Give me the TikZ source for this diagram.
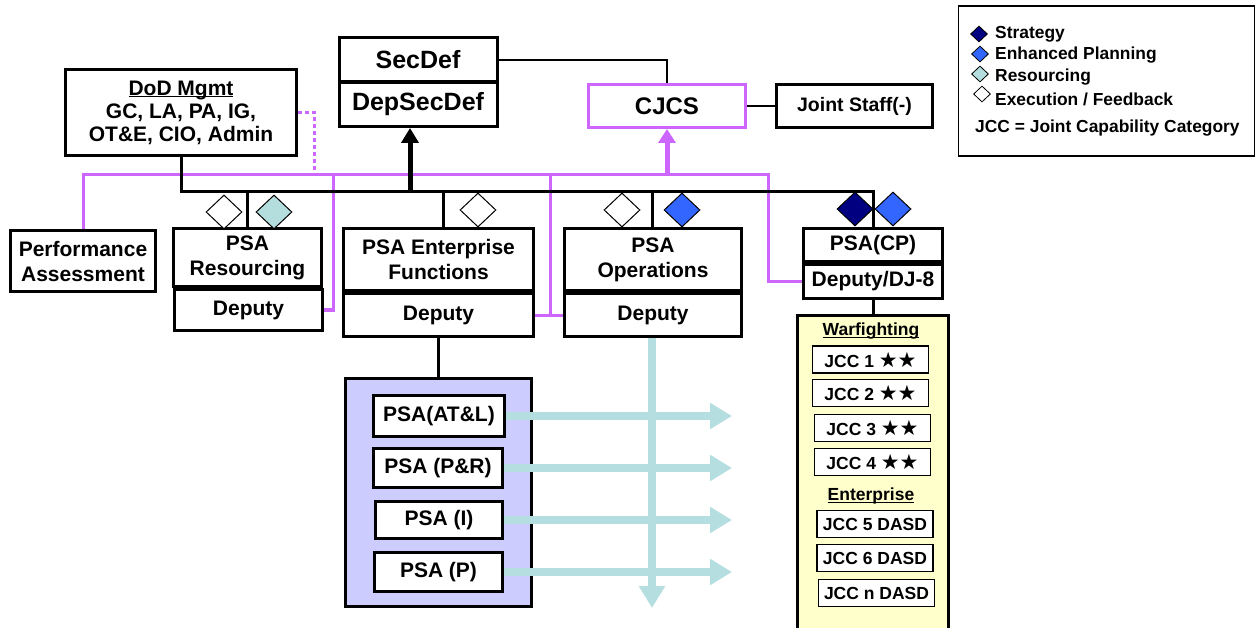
\documentclass[tikz,border=0pt]{standalone}
\usepackage{fontspec}
\setmainfont{Liberation Sans}
\newfontfamily\symfont{DejaVu Sans}
\usetikzlibrary{shapes.geometric,arrows.meta}
\definecolor{purp}{RGB}{204,102,255}
\definecolor{tealarrow}{RGB}{180,222,224}
\definecolor{diateal}{RGB}{180,222,222}
\definecolor{eblue}{RGB}{51,102,255}
\definecolor{navytwo}{RGB}{0,0,128}
\definecolor{lav}{RGB}{204,204,255}
\definecolor{ylw}{RGB}{255,255,204}
\newcommand\myul[1]{\underline{\smash{#1}}\vphantom{#1}}
\newcommand\mystars{{\symfont\fontsize{21}{20}\selectfont ★★}}
\begin{document}
\begin{tikzpicture}[x=1pt,y=-1pt,
  bx/.style={draw, line width=3pt, fill=white, inner sep=0pt, align=center, font=\bfseries\fontsize{21}{25}\selectfont},
  jcc/.style={draw, line width=1.3pt, fill=white, inner sep=0pt, minimum width=116pt, minimum height=27pt, font=\bfseries\fontsize{17.5}{20}\selectfont},
  jcchead/.style={inner sep=0pt, font=\bfseries\fontsize{17.5}{20}\selectfont},
  dia/.style={diamond, draw, line width=1pt, inner sep=0pt, minimum width=36pt, minimum height=34pt},
  ldia/.style={diamond, draw, line width=0.8pt, inner sep=0pt, minimum width=17pt, minimum height=16pt},
  legtext/.style={anchor=west, inner sep=0pt, font=\bfseries\fontsize{17.4}{20}\selectfont},
  busline/.style={line width=3pt, line join=miter},
  pline/.style={purp, line width=3pt},
  tarrow/.style={tealarrow, line width=8pt, -{Triangle[width=25pt,length=22pt]}},
  thinline/.style={line width=1.2pt},
]
\useasboundingbox (0,0) rectangle (1258,628);

% legend
\node[draw, line width=1.5pt, minimum width=296pt, minimum height=150pt, inner sep=0pt] (legend) at (1106.5,81) {};
\node[ldia, fill=navytwo] (l1) at (979,34) {};
\node[ldia, fill=eblue] (l2) at (980,54) {};
\node[ldia, fill=diateal] (l3) at (980,74) {};
\node[ldia, fill=white] (l4) at (982,94) {};
\node[legtext] (t1) at (995,34) {Strategy};
\node[legtext] (t2) at (995,55) {Enhanced Planning};
\node[legtext] (t3) at (995,77) {Resourcing};
\node[legtext] (t4) at (995,99) {Execution / Feedback};
\node[legtext] (t5) at (975,128) {JCC = Joint Capability Category};

% top boxes
\node[bx, minimum width=158pt, minimum height=44pt, font=\bfseries\fontsize{25}{28}\selectfont] (secdef) at (418,60) {SecDef};
\node[bx, minimum width=158pt, minimum height=44pt, font=\bfseries\fontsize{25}{28}\selectfont] (depsec) at (418,104.5) {DepSecDef};
\node[bx, draw=purp, minimum width=157pt, minimum height=43pt, font=\bfseries\fontsize{24}{28}\selectfont] (cjcs) at (667,106) {CJCS};
\node[bx, minimum width=156pt, minimum height=43pt, font=\bfseries\fontsize{19.5}{23}\selectfont] (jstaff) at (854.5,106) {Joint Staff(-)};
\node[bx, minimum width=231pt, minimum height=86pt, font=\bfseries\fontsize{21}{23}\selectfont] (dod) at (181,112.5) {\myul{DoD Mgmt}\\GC, LA, PA, IG,\\OT\&E, CIO, Admin};

% middle row
\node[bx, minimum width=145pt, minimum height=61pt] (perf) at (83,261) {Performance\\Assessment};
\node[bx, minimum width=148pt, minimum height=58pt] (res) at (247.5,257.5) {PSA\\Resourcing};
\node[bx, minimum width=148pt, minimum height=41pt] (resdep) at (248.5,310) {Deputy};
\node[bx, minimum width=190pt, minimum height=62pt] (ent) at (438.5,259.5) {PSA Enterprise\\Functions};
\node[bx, minimum width=190pt, minimum height=42pt] (entdep) at (438.5,315) {Deputy};
\node[bx, minimum width=177pt, minimum height=62pt] (ops) at (653,259.5) {PSA\\Operations};
\node[bx, minimum width=177pt, minimum height=42pt] (opsdep) at (653,315) {Deputy};
\node[bx, minimum width=139pt, minimum height=33pt] (cp) at (873,245) {PSA(CP)};
\node[bx, minimum width=139pt, minimum height=34pt] (cpdep) at (873,281.5) {Deputy/DJ-8};

% JCC box
\node[draw, line width=3pt, fill=ylw, minimum width=151pt, minimum height=340pt, inner sep=0pt, anchor=north] (jccbox) at (873,313.5) {};
\node[jcchead] (wf) at (871,331) {\myul{Warfighting}};
\node[jcc] (j1) at (870.5,359.5) {JCC 1 \mystars};
\node[jcc] (j2) at (870.5,393) {JCC 2 \mystars};
\node[jcc] (j3) at (872.5,428) {JCC 3 \mystars};
\node[jcc] (j4) at (872.5,462) {JCC 4 \mystars};
\node[jcchead] (entp) at (871,496) {\myul{Enterprise}};
\node[jcc] (j5) at (875,524) {JCC 5 DASD};
\node[jcc] (j6) at (875,558) {JCC 6 DASD};
\node[jcc] (jn) at (876.5,593) {JCC n DASD};

% lavender box
\node[draw, line width=3pt, fill=lav, minimum width=186pt, minimum height=228pt, inner sep=0pt] (lavbox) at (438.5,492.5) {};
\node[bx, minimum width=131pt, minimum height=41pt] (atl) at (439,416) {PSA(AT\&L)};
\node[bx, minimum width=129pt, minimum height=39pt] (pr) at (438,468) {PSA (P\&R)};
\node[bx, minimum width=127pt, minimum height=37pt] (pi) at (439,520) {PSA (I)};
\node[bx, minimum width=128pt, minimum height=39pt] (pp) at (438.5,572) {PSA (P)};

% coordinates
\coordinate (pL) at (83,175);
\coordinate (pR) at (768,175);
\coordinate (p1) at (333,175);
\coordinate (p2) at (550,175);
\coordinate (p3) at (667,175);
\coordinate (p4) at (314,175);
\coordinate (busL) at (181,192);
\coordinate (busR) at (873,192);
\coordinate (bres) at (247,192);
\coordinate (bent) at (443,192);
\coordinate (bops) at (652,192);
\coordinate (bsec) at (410,192);
\coordinate (ax) at (732,0);
\coordinate (vt) at (652,608);

% purple lines
\draw[pline] (perf.north) -- (pL) -- (pR) |- (cpdep.west);
\draw[pline] (p1) |- (resdep.east);
\draw[pline] (p2) -- (p2 |- entdep.east);
\draw[pline] (entdep.east) -- (opsdep.west);
\draw[purp, line width=3pt, dash pattern=on 4pt off 3pt] (dod.east) -| (p4);
\draw[purp, line width=5pt, -{Triangle[width=17pt,length=14pt]}] (p3) -- (cjcs.south);

% black lines
\draw[busline] (dod.south) -- (busL) -- (busR) -- (cp.north);
\draw[busline] (bres) -- (bres |- res.north);
\draw[busline] (bent) -- (bent |- ent.north);
\draw[busline] (bops) -- (bops |- ops.north);
\draw[line width=5pt, -{Triangle[width=17pt,length=15pt]}] (bsec) -- (bsec |- depsec.south);
\draw[thinline] (secdef.east) -| (cjcs.north);
\draw[thinline] (cjcs.east) -- (jstaff.west);
\draw[line width=3pt] (cpdep.south) -- (jccbox.north);
\draw[line width=3pt] (entdep.south) -- (lavbox.north);

% teal arrows
\draw[tarrow] (opsdep.south -| vt) -- (vt);
\draw[tarrow] (atl.east) -- (atl.east -| ax);
\draw[tarrow] (pr.east) -- (pr.east -| ax);
\draw[tarrow] (pi.east) -- (pi.east -| ax);
\draw[tarrow] (pp.east) -- (pp.east -| ax);

% diamonds
\node[dia, fill=white] (d1) at (224,212) {};
\node[dia, fill=diateal] (d2) at (274,212) {};
\node[dia, fill=white] (d3) at (478,210) {};
\node[dia, fill=white] (d4) at (622,210) {};
\node[dia, fill=eblue] (d5) at (682,210) {};
\node[dia, fill=navytwo] (d6) at (855,209) {};
\node[dia, fill=eblue] (d7) at (893,209) {};
\end{tikzpicture}
\end{document}
